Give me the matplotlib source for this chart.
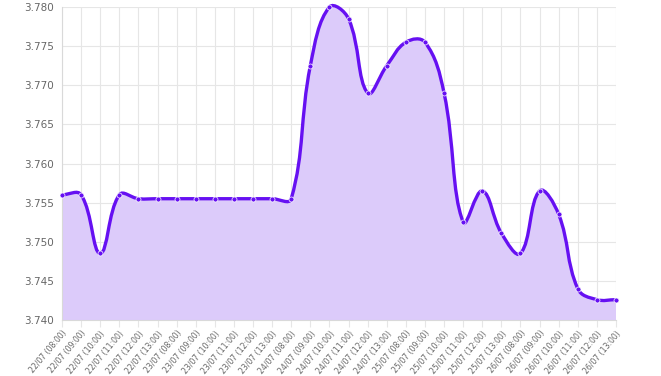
import matplotlib
matplotlib.use("Agg")
import matplotlib.pyplot as plt
import matplotlib.transforms as mtransforms
from matplotlib.path import Path
from matplotlib.patches import PathPatch
import numpy as np

days = ["22/07", "23/07", "24/07", "25/07", "26/07"]
hours = ["08:00", "09:00", "10:00", "11:00", "12:00", "13:00"]
labels = [f"{d} ({h})" for d in days for h in hours]

values = [3.7560, 3.7560, 3.7485, 3.7560, 3.7555, 3.7555,
          3.7555, 3.7555, 3.7555, 3.7555, 3.7555, 3.7555,
          3.7555, 3.7725, 3.7800, 3.7785, 3.7690, 3.7725,
          3.7755, 3.7755, 3.7690, 3.7525, 3.7565, 3.7511,
          3.7485, 3.7565, 3.7535, 3.7440, 3.7426, 3.7426]

yticks = [3.740, 3.745, 3.750, 3.755, 3.760, 3.765, 3.770, 3.775, 3.780]

LINE = "#6610f2"
FILL = "#dccbfa"
GRID = "#e6e6e6"
TXT = "#666666"

W, H = 661, 376
fig = plt.figure(figsize=(W / 100, H / 100), dpi=100)
ax = fig.add_axes([62 / W, 1 - 320 / H, (616 - 62) / W, (320 - 7) / H])

n = len(values)
x = np.arange(n)
y = np.array(values)
ax.set_xlim(0, n - 1)
ax.set_ylim(3.740, 3.780)

# chart.js style spline (tension 0.4), computed in pixel space
sx = (616 - 62) / (n - 1)
sy = (320 - 7) / 0.04
px = x * sx
py = y * sy
t = 0.4
cp_prev = []
cp_next = []
for i in range(n):
    p0 = (px[max(i - 1, 0)], py[max(i - 1, 0)])
    p1 = (px[i], py[i])
    p2 = (px[min(i + 1, n - 1)], py[min(i + 1, n - 1)])
    d01 = np.hypot(p1[0] - p0[0], p1[1] - p0[1])
    d12 = np.hypot(p2[0] - p1[0], p2[1] - p1[1])
    tot = d01 + d12
    s01 = d01 / tot if tot else 0
    s12 = d12 / tot if tot else 0
    fa, fb = t * s01, t * s12
    cp_prev.append((p1[0] - fa * (p2[0] - p0[0]), p1[1] - fa * (p2[1] - p0[1])))
    cp_next.append((p1[0] + fb * (p2[0] - p0[0]), p1[1] + fb * (p2[1] - p0[1])))

verts = [(px[0] / sx, py[0] / sy)]
codes = [Path.MOVETO]
for i in range(1, n):
    verts += [(cp_next[i - 1][0] / sx, cp_next[i - 1][1] / sy),
              (cp_prev[i][0] / sx, cp_prev[i][1] / sy),
              (px[i] / sx, py[i] / sy)]
    codes += [Path.CURVE4] * 3

line_path = Path(verts, codes)
fill_verts = verts + [(x[-1], 3.740), (x[0], 3.740), verts[0]]
fill_codes = codes + [Path.LINETO, Path.LINETO, Path.CLOSEPOLY]
ax.add_patch(PathPatch(Path(fill_verts, fill_codes), facecolor=FILL, edgecolor="none", zorder=1))
ax.add_patch(PathPatch(line_path, facecolor="none", edgecolor=LINE, lw=2.4, zorder=3, clip_on=False))
ax.plot(x, y, "o", ms=3.6, color=LINE, mec="white", mew=0.5, zorder=4, clip_on=False)

ax.set_xticks(x)
ax.set_xticklabels(labels, rotation=50, ha="right", rotation_mode="anchor", fontsize=5.6, color=TXT)
shift = mtransforms.ScaledTranslation(4 / 100, 0, fig.dpi_scale_trans)
for lab in ax.get_xticklabels():
    lab.set_transform(lab.get_transform() + shift)
ax.set_yticks(yticks)
ax.set_yticklabels([f"{v:.3f}" for v in yticks], fontsize=7.5, color=TXT)
ax.grid(True, color=GRID, lw=0.8, zorder=0)
ax.set_axisbelow(True)
for s in ["top", "right"]:
    ax.spines[s].set_visible(False)
for s in ["left", "bottom"]:
    ax.spines[s].set_color("#d9d9d9")
    ax.spines[s].set_linewidth(0.8)
ax.tick_params(axis="x", length=5, color=GRID, pad=1.5)
ax.tick_params(axis="y", length=0, pad=6)

fig.savefig("out.png", dpi=100)
